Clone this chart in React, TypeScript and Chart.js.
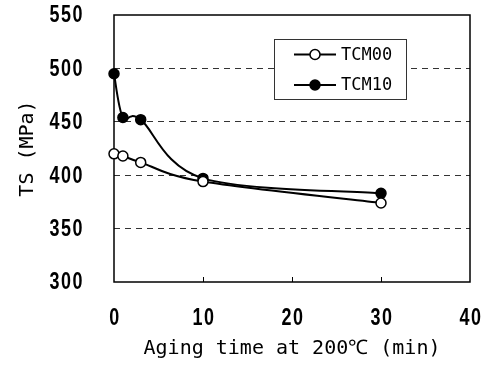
import React, { useEffect, useRef } from "react";
import { Chart, registerables } from "chart.js";

Chart.register(...registerables);

const agingTime = [0, 1, 3, 10, 30];
const tcm00 = [420, 418, 412, 394, 374];
const tcm10 = [495, 454, 452, 397, 383];
const seriesNames = ["TCM00", "TCM10"];
const xTicks = [0, 10, 20, 30, 40];
const yTicks = [300, 350, 400, 450, 500, 550];

const FONT = "'DejaVu Sans Mono', 'Liberation Mono', monospace";
const TICK_FONT = "bold 23px 'Liberation Sans', Arial, sans-serif";
const TICK_SX = 0.78;

// Spreadsheet-style smoothing: control points at 1/6 of neighbour chord
const smoothPlugin = {
  id: "smooth",
  afterDatasetsUpdate(chart: any) {
    chart.data.datasets.forEach((_d: any, di: number) => {
      const meta = chart.getDatasetMeta(di);
      if (!meta || !meta.dataset) return;
      meta.dataset.updateControlPoints(chart.chartArea, "x");
      const pts = meta.data;
      for (let i = 0; i < pts.length; i++) {
        const p = pts[i];
        const prev = pts[i - 1] || p;
        const next = pts[i + 1] || p;
        const dx = (next.x - prev.x) / 6;
        const dy = (next.y - prev.y) / 6;
        p.cp1x = p.x - dx;
        p.cp1y = p.y - dy;
        p.cp2x = p.x + dx;
        p.cp2y = p.y + dy;
      }
    });
  },
};

const framePlugin = {
  id: "frame",
  beforeDatasetsDraw(chart: any) {
    const { ctx, chartArea: a, scales } = chart;
    ctx.save();
    ctx.strokeStyle = "#000";
    ctx.lineWidth = 1.5;
    ctx.strokeRect(a.left, a.top, a.right - a.left, a.bottom - a.top);
    ctx.lineWidth = 1;
    for (const v of xTicks) {
      if (v === xTicks[0] || v === xTicks[xTicks.length - 1]) continue;
      const x = Math.round(scales.x.getPixelForValue(v)) + 0.5;
      ctx.beginPath();
      ctx.moveTo(x, a.bottom);
      ctx.lineTo(x, a.bottom - 5);
      ctx.stroke();
    }
    ctx.restore();
  },
  afterDraw(chart: any) {
    const { ctx, chartArea: a, scales } = chart;
    const ds = chart.data.datasets;
    ctx.save();
    // narrow tick labels
    ctx.fillStyle = "#000";
    ctx.font = TICK_FONT;
    ctx.textBaseline = "middle";
    try {
      (ctx as any).letterSpacing = "2px";
    } catch (e) {}
    for (const v of yTicks) {
      const y = scales.y.getPixelForValue(v);
      ctx.save();
      ctx.translate(a.left - 30, y + 1);
      ctx.scale(TICK_SX, 1);
      ctx.textAlign = "right";
      ctx.fillText(String(v), 0, 0);
      ctx.restore();
    }
    for (const v of xTicks) {
      const x = scales.x.getPixelForValue(v);
      ctx.save();
      ctx.translate(x + 1, a.bottom + 37);
      ctx.scale(TICK_SX, 1);
      ctx.textAlign = "center";
      ctx.fillText(String(v), 0, 0);
      ctx.restore();
    }
    try {
      (ctx as any).letterSpacing = "0px";
    } catch (e) {}
    // legend
    const bx = 274.5, by = 39.5, bw = 132, bh = 60;
    ctx.fillStyle = "#fff";
    ctx.fillRect(bx, by, bw, bh);
    ctx.strokeStyle = "#333";
    ctx.lineWidth = 1;
    ctx.strokeRect(bx, by, bw, bh);
    const rows = [54.5, 85];
    ds.forEach((d: any, i: number) => {
      const y = rows[i];
      ctx.strokeStyle = "#000";
      ctx.lineWidth = 2;
      ctx.beginPath();
      ctx.moveTo(294, y);
      ctx.lineTo(336, y);
      ctx.stroke();
      ctx.beginPath();
      ctx.arc(315, y, 5, 0, Math.PI * 2);
      ctx.fillStyle = d.pointBackgroundColor;
      ctx.fill();
      ctx.lineWidth = 1.5;
      ctx.stroke();
      ctx.fillStyle = "#000";
      ctx.font = `17px ${FONT}`;
      ctx.textBaseline = "middle";
      ctx.textAlign = "left";
      ctx.fillText(d.label, 341, y + 1);
    });
    ctx.restore();
  },
};

const zeroPad = (s: any) => {
  s.paddingTop = 0;
  s.paddingBottom = 0;
  s.paddingLeft = 0;
  s.paddingRight = 0;
};

export default function App() {
  const ref = useRef<HTMLCanvasElement | null>(null);
  useEffect(() => {
    document.body.style.margin = "0";
    const canvas = ref.current!;
    const mk = (vals: number[]) => agingTime.map((x, i) => ({ x, y: vals[i] }));
    const common = {
      borderColor: "#000",
      borderWidth: 2,
      pointRadius: 5,
      pointBorderWidth: 1.5,
      pointBorderColor: "#000",
      tension: 0.3,
      clip: false as any,
    };
    const chart = new Chart(canvas, {
      type: "line",
      data: {
        datasets: [
          { ...common, label: seriesNames[0], data: mk(tcm00), pointBackgroundColor: "#fff" },
          { ...common, label: seriesNames[1], data: mk(tcm10), pointBackgroundColor: "#000" },
        ],
      },
      options: {
        animation: false,
        responsive: true,
        maintainAspectRatio: false,
        layout: { padding: { top: 15, right: 19, left: 0, bottom: 0 } },
        plugins: { legend: { display: false }, tooltip: { enabled: false } },
        scales: {
          x: {
            type: "linear",
            min: xTicks[0],
            max: xTicks[xTicks.length - 1],
            afterBuildTicks: (s: any) => {
              s.ticks = xTicks.map((v) => ({ value: v }));
            },
            afterFit: (s: any) => {
              s.height = 85;
              zeroPad(s);
            },
            ticks: { display: false },
            grid: { display: false, drawTicks: false },
            border: { display: false },
            title: {
              display: true,
              text: "Aging time at 200℃ (min)",
              color: "#000",
              font: { family: FONT, size: 20 },
              padding: 6,
            },
          },
          y: {
            type: "linear",
            min: yTicks[0],
            max: yTicks[yTicks.length - 1],
            afterBuildTicks: (s: any) => {
              s.ticks = yTicks.map((v) => ({ value: v }));
            },
            afterFit: (s: any) => {
              s.width = 114;
              zeroPad(s);
            },
            ticks: { display: false },
            grid: {
              drawTicks: false,
              color: (c: any) =>
                c.tick && (c.tick.value === yTicks[0] || c.tick.value === yTicks[yTicks.length - 1])
                  ? "rgba(0,0,0,0)"
                  : "#333",
              lineWidth: 1,
            },
            border: { display: false, dash: [6, 5] },
            title: {
              display: true,
              text: "TS (MPa)",
              color: "#000",
              font: { family: FONT, size: 20 },
              padding: 16,
            },
          },
        },
      },
      plugins: [smoothPlugin, framePlugin],
    });
    return () => chart.destroy();
  }, []);
  return (
    <div style={{ position: "relative", width: 489, height: 367 }}>
      <canvas ref={ref} />
    </div>
  );
}
